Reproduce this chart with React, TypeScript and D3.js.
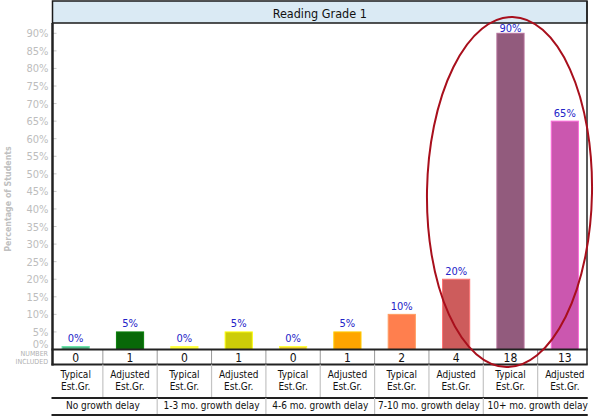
import React from "react";
import * as d3 from "d3";

const title = "Reading Grade 1";
const yAxisTitle = "Percentage of Students";
const groups = ["No growth delay", "1-3 mo. growth delay", "4-6 mo. growth delay", "7-10 mo. growth delay", "10+ mo. growth delay"];
const subTypes = ["Typical", "Adjusted"];
const percents = [0, 5, 0, 5, 0, 5, 10, 20, 90, 65];
const counts = [0, 1, 0, 1, 0, 1, 2, 4, 18, 13];
const colors = ["#55b888", "#086808", "#ffff3a", "#cccc08", "#f2d431", "#ffa500", "#ff7f4e", "#cd5c5c", "#925b7d", "#cb57af"];
const yTicks = d3.range(0, 95, 5);

const W = 600, H = 416;
const axisX = 52.5, rightX = 587;
const font = "'DejaVu Sans Condensed', 'DejaVu Sans', Verdana, sans-serif";

export default function App() {
  const cols = d3.range(percents.length);
  const x = d3.scaleBand<number>().domain(cols).range([48.5, 592]).padding(0);
  const step = x.step();
  const barW = step * 0.5;
  const y = d3.scaleLinear().domain([0, 90]).range([349.5, 33.3]);
  const baseY = 349.5;
  const numBottom = 364.5;
  const catBottom = 398;
  const grpBottom = 415;

  return (
    <svg width={W} height={H} style={{ position: "absolute", left: 0, top: 0, fontFamily: font, fontStretch: "condensed" }}>
      <rect x={0} y={0} width={W} height={H} fill="#fff" />
      {/* title box */}
      <rect x={axisX} y={1} width={rightX - axisX} height={22} fill="#daeaf4" stroke="#1a1a1a" strokeWidth={1.5} />
      <text x={(axisX + rightX) / 2} y={17.5} textAnchor="middle" fontSize={12.5} fill="#111">{title}</text>

      {/* y ticks */}
      {yTicks.map((t) => (
        <g key={t}>
          <line x1={axisX} x2={axisX + 4} y1={y(t)} y2={y(t)} stroke="#c8c8c8" strokeWidth={1} />
          <text x={48.5} y={t === 0 ? y(t) - 2 : y(t) + 4} textAnchor="end" fontSize={11} fill="#bdbdbd">{t}%</text>
        </g>
      ))}
      <text transform={`translate(11,199) rotate(-90)`} textAnchor="middle" fontSize={8.8} fontWeight="bold" fill="#c0c0c0">{yAxisTitle}</text>

      {/* bars */}
      {cols.map((i) => {
        const cx = (x(i) as number) + step / 2;
        const top = percents[i] === 0 ? baseY - 3 : y(percents[i]);
        const c = d3.color(colors[i])!;
        const labelY = Math.max(top - 4.5, 32);
        return (
          <g key={i}>
            <rect x={cx - barW / 2} y={top} width={barW} height={baseY - top} fill={colors[i]} stroke={c.brighter(0.6).formatHex()} strokeWidth={1} />
            <text x={cx} y={labelY} textAnchor="middle" fontSize={11} fill="#2323c8">{percents[i]}%</text>
          </g>
        );
      })}

      {/* frame */}
      <line x1={axisX} x2={axisX} y1={23} y2={numBottom + 1} stroke="#222" strokeWidth={2.5} />
      <line x1={rightX} x2={rightX} y1={1} y2={numBottom} stroke="#222" strokeWidth={1.5} />

      {/* number included row */}
      <text x={48} y={355.5} textAnchor="end" fontSize={7} fill="#b0b0b0">NUMBER</text>
      <text x={48} y={364} textAnchor="end" fontSize={7} fill="#b0b0b0">INCLUDED</text>
      {cols.slice(1).map((i) => (
        <line key={"nv" + i} x1={x(i) as number} x2={x(i) as number} y1={baseY} y2={numBottom} stroke="#999" strokeWidth={1} />
      ))}
      {cols.map((i) => (
        <text key={"n" + i} x={(x(i) as number) + step / 2} y={362} textAnchor="middle" fontSize={12} fill="#111">{counts[i]}</text>
      ))}
      <line x1={axisX - 1} x2={rightX + 0.75} y1={baseY} y2={baseY} stroke="#222" strokeWidth={2} />
      <line x1={axisX - 1} x2={rightX + 0.75} y1={numBottom} y2={numBottom} stroke="#222" strokeWidth={2} />

      {/* category row */}
      {cols.slice(1).map((i) => (
        <line key={"cv" + i} x1={x(i) as number} x2={x(i) as number} y1={numBottom} y2={catBottom} stroke="#c4c4c4" strokeWidth={1.2} />
      ))}
      {cols.map((i) => (
        <text key={"c" + i} x={(x(i) as number) + step / 2} textAnchor="middle" fontSize={10} fill="#111">
          <tspan x={(x(i) as number) + step / 2} y={378.3}>{subTypes[i % 2]}</tspan>
          <tspan x={(x(i) as number) + step / 2} y={389.5}>Est.Gr.</tspan>
        </text>
      ))}
      <line x1={axisX - 1} x2={rightX + 0.75} y1={catBottom} y2={catBottom} stroke="#222" strokeWidth={2} />

      {/* group row */}
      {groups.slice(1).map((g, gi) => (
        <line key={"gv" + gi} x1={x((gi + 1) * 2) as number} x2={x((gi + 1) * 2) as number} y1={catBottom} y2={grpBottom} stroke="#c4c4c4" strokeWidth={1.2} />
      ))}
      {groups.map((g, gi) => (
        <text key={"g" + gi} x={(x(gi * 2) as number) + step} y={409} textAnchor="middle" fontSize={10} fill="#111">{g}</text>
      ))}
      <line x1={axisX - 1} x2={rightX + 0.75} y1={grpBottom} y2={grpBottom} stroke="#222" strokeWidth={2} />

      {/* highlight ellipse */}
      <ellipse cx={509.5} cy={192} rx={82.5} ry={175} fill="none" stroke="#a80f1c" strokeWidth={2} transform="rotate(1 509.5 192)" />
    </svg>
  );
}
